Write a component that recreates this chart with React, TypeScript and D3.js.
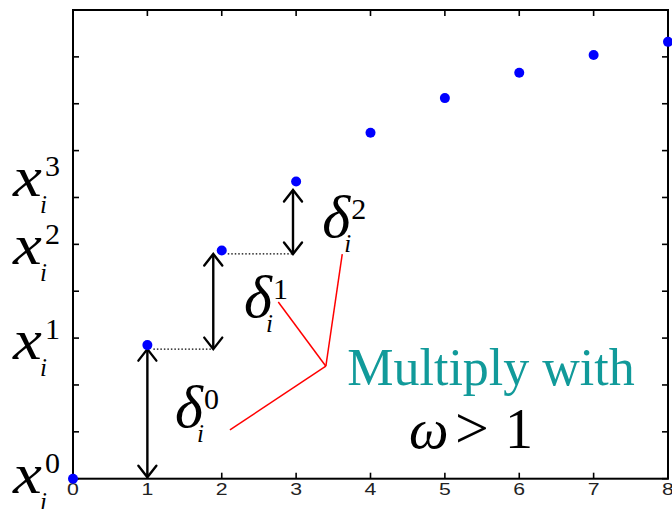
import React from "react";
import * as d3 from "d3";

const iterations = [0, 1, 2, 3, 4, 5, 6, 7, 8];
const values = [0, 2.85, 4.87, 6.34, 7.38, 8.12, 8.66, 9.04, 9.32];
const xTicks = [0, 1, 2, 3, 4, 5, 6, 7, 8];
const yTicks = [0, 1, 2, 3, 4, 5, 6, 7, 8, 9, 10];
const yLabelLevels = [0, 1, 2, 3]; // iteration index whose value is labelled x_i^k
const deltaLabels = ["0", "1", "2"];
// annotation anchors in data space
const deltaAnchorX = [1.37, 2.3, 3.35];
const arrowX = [1, 1.886, 2.958];
const hub = [3.4, 2.4];
const redEnds = [[2.11, 1.04], [2.76, 3.77], [3.62, 4.79]];

const W = 672, H = 509;
const M = { left: 73, top: 10, right: 4, bottom: 30.3 };

const serif = "'Liberation Serif', 'Times New Roman', serif";

function DoubleArrow({ x, y1, y2 }: { x: number; y1: number; y2: number }) {
  const hw = 9, hl = 11.5;
  return (
    <g stroke="#000" strokeWidth={2.4} fill="none" strokeLinecap="round" strokeLinejoin="miter">
      <line x1={x} y1={y1 + 1} x2={x} y2={y2 - 1} />
      <polyline points={`${x - hw},${y1 + hl} ${x},${y1} ${x + hw},${y1 + hl}`} />
      <polyline points={`${x - hw},${y2 - hl} ${x},${y2} ${x + hw},${y2 - hl}`} />
    </g>
  );
}

export default function App() {
  const x = d3.scaleLinear().domain([0, 8]).range([M.left, W - M.right]);
  const y = d3.scaleLinear().domain([0, 10]).range([H - M.bottom, M.top]);
  const x0 = x.range()[0], x1 = x.range()[1];
  const yb = y.range()[0], yt = y.range()[1];
  const tl = 6;

  const lvl = [y(values[0]), y(values[1]) + 4, y(values[2]) + 3.5];
  const arrows = [
    { x: x(arrowX[0]), y1: lvl[1], y2: yb - 1.5 },
    { x: x(arrowX[1]), y1: lvl[2], y2: lvl[1] },
    { x: x(arrowX[2]), y1: y(values[3]) + 8.5, y2: lvl[2] },
  ];
  const dotted = [
    { xa: x(iterations[1]) + 6, xb: x(arrowX[1]), yy: lvl[1] },
    { xa: x(iterations[2]) + 6, xb: x(arrowX[2]), yy: lvl[2] },
  ];
  const deltaBase = [427, 317, 237];

  return (
    <div style={{ position: "absolute", left: 0, top: 0 }}>
      <svg width={W} height={H} style={{ display: "block" }}>
        <rect width={W} height={H} fill="#fff" />
        <g stroke="#000" strokeWidth={1.6}>
          {xTicks.map((t) => (
            <g key={"xt" + t}>
              <line x1={x(t)} x2={x(t)} y1={yb} y2={yb - tl} />
              <line x1={x(t)} x2={x(t)} y1={yt} y2={yt + tl} />
            </g>
          ))}
          {yTicks.map((t) => (
            <g key={"yt" + t}>
              <line x1={x0} x2={x0 + tl} y1={y(t)} y2={y(t)} />
              <line x1={x1} x2={x1 - tl} y1={y(t)} y2={y(t)} />
            </g>
          ))}
        </g>
        <rect x={x0} y={yt} width={x1 - x0} height={yb - yt} fill="none" stroke="#000" strokeWidth={2} />
        <g fontFamily="'Liberation Sans', Arial, sans-serif" fontSize={17} fill="#222" textAnchor="middle">
          {xTicks.map((t) => (
            <text key={"xl" + t} transform={`translate(${x(t)},${yb + 16}) scale(1.25,1)`}>{t}</text>
          ))}
        </g>
        <g fontFamily={serif} fill="#000">
          {yLabelLevels.map((k) => {
            const base = y(values[k]) + 14;
            return (
              <g key={"yl" + k}>
                <text transform={`translate(13,${base}) scale(1.12,1)`} fontSize={58} fontStyle="italic">x</text>
                <text x={45} y={base - 20} fontSize={30}>{k}</text>
                <text x={40} y={base + 17} fontSize={25} fontStyle="italic">i</text>
              </g>
            );
          })}
        </g>
        <g stroke="#000" strokeWidth={1.3} strokeDasharray="1.5,2">
          {dotted.map((d, i) => (
            <line key={"d" + i} x1={d.xa} x2={d.xb} y1={d.yy} y2={d.yy} />
          ))}
        </g>
        {arrows.map((a, i) => (
          <DoubleArrow key={"a" + i} x={a.x} y1={a.y1} y2={a.y2} />
        ))}
        <g stroke="#f00" strokeWidth={1.5}>
          {redEnds.map((e, i) => (
            <line key={"r" + i} x1={x(hub[0])} y1={y(hub[1])} x2={x(e[0])} y2={y(e[1])} />
          ))}
        </g>
        <g fontFamily={serif} fill="#000">
          {deltaLabels.map((k, i) => {
            const bx = x(deltaAnchorX[i]);
            const base = deltaBase[i];
            return (
              <g key={"dl" + k}>
                <text x={bx} y={base} fontSize={60} fontStyle="italic">δ</text>
                <text x={bx + 29} y={base - 18} fontSize={30}>{k}</text>
                <text x={bx + 22} y={base + 15} fontSize={25} fontStyle="italic">i</text>
              </g>
            );
          })}
        </g>
        <g fill="#0000ff">
          {iterations.map((it, i) => (
            <circle key={"p" + i} cx={x(it)} cy={y(values[i])} r={5} />
          ))}
        </g>
        <text x={491} y={385} textAnchor="middle" fontFamily={serif} fontSize={52} fill="#119a9a">Multiply with</text>
        <g fontFamily={serif} fontSize={56} fill="#000">
          <text x={409} y={448} fontStyle="italic">ω</text>
          <text x={455} y={448} fontSize={60}>&gt;</text>
          <text x={505} y={448}>1</text>
        </g>
      </svg>
    </div>
  );
}
